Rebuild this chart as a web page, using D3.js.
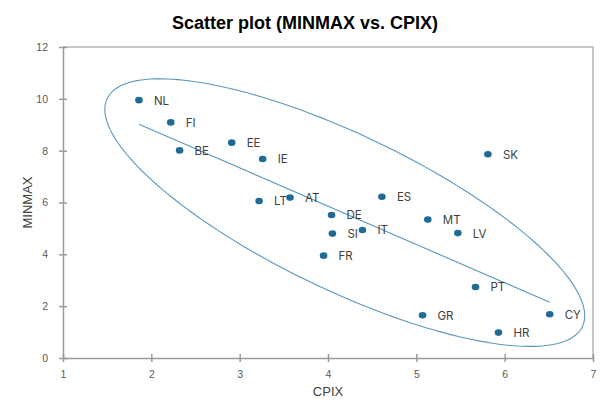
<!DOCTYPE html>
<html>
<head>
<meta charset="utf-8">
<script src="https://cdn.jsdelivr.net/npm/d3@7"></script>
<style>
  body { margin: 0; background: #fff; }
  svg { display: block; }
</style>
</head>
<body>
<svg></svg>
<script>
// country codes and their values
let countries = ["NL", "FI", "BE", "EE", "IE", "LT", "AT", "DE", "SI", "IT", "FR", "ES", "MT", "LV", "PT", "SK", "GR", "HR", "CY"];
let cpix = [1.86, 2.22, 2.32, 2.91, 3.26, 3.22, 3.57, 4.04, 4.05, 4.39, 3.95, 4.61, 5.13, 5.47, 5.67, 5.81, 5.07, 5.93, 6.51];
let minmax = [9.95, 9.09, 8.01, 8.31, 7.68, 6.06, 6.19, 5.52, 4.80, 4.94, 3.95, 6.22, 5.34, 4.82, 2.74, 7.86, 1.65, 0.98, 1.69];

// trend line end values (at the smallest and largest CPIX)
let trendY = [9.02, 2.15];

// hand drawn ellipse around the points, in data units
let ellipseCenter = [4.19, 5.61];
let ellipseMajor = [2.69, -4.40];
let ellipseMinor = [-0.378, -2.70];

let xTicks = [1, 2, 3, 4, 5, 6, 7];
let yTicks = [0, 2, 4, 6, 8, 10, 12];

let width = 603;
let height = 403;
let margin = { top: 47, right: 10, bottom: 45, left: 63 };

let svg = d3.select("svg").attr("width", width).attr("height", height);

let xScale = d3.scaleLinear().domain([1, 7]).range([margin.left, width - margin.right]);
let yScale = d3.scaleLinear().domain([0, 12]).range([height - margin.bottom, margin.top]);

let values = countries.map((c, i) => ({ name: c, x: cpix[i], y: minmax[i] }));

// title
svg.append("text")
   .attr("x", 305)
   .attr("y", 29)
   .attr("text-anchor", "middle")
   .style("font-family", "'Liberation Sans', Arial, sans-serif")
   .style("font-weight", "bold")
   .style("font-size", "18px")
   .style("fill", "#000")
   .text("Scatter plot (MINMAX vs. CPIX)");

// frame on top and right
svg.append("path")
   .attr("d", `M${xScale(1)},${yScale(12)}H${xScale(7)}V${yScale(0)}`)
   .attr("fill", "none")
   .attr("stroke", "#c6c6c6")
   .attr("stroke-width", 2);

// axes
let xAxis = d3.axisBottom(xScale).tickValues(xTicks).tickFormat(d3.format("d")).tickSizeInner(4).tickSizeOuter(0).tickPadding(9);
let yAxis = d3.axisLeft(yScale).tickValues(yTicks).tickFormat(d3.format("d")).tickSizeInner(4).tickSizeOuter(0).tickPadding(11);

let gx = svg.append("g")
   .attr("transform", `translate(0, ${yScale(0)})`)
   .call(xAxis);

let gy = svg.append("g")
   .attr("transform", `translate(${xScale(1)}, 0)`)
   .call(yAxis);

[gx, gy].forEach(g => {
  g.select(".domain").attr("stroke", "#9a9a9a").attr("stroke-width", 1.5);
  g.selectAll(".tick line").attr("stroke", "#9a9a9a").attr("stroke-width", 1.5);
  g.selectAll(".tick text")
   .style("font-family", "'Liberation Sans', Arial, sans-serif")
   .style("font-size", "10.5px")
   .style("fill", "#595959");
});
// ticks cross the axis line
gx.selectAll(".tick line").attr("y1", -4).attr("y2", 4);
gy.selectAll(".tick line").attr("x1", -4).attr("x2", 4);

// axis titles
svg.append("text")
   .attr("x", xScale(4))
   .attr("y", 396)
   .attr("text-anchor", "middle")
   .style("font-family", "'Liberation Sans', Arial, sans-serif")
   .style("font-size", "13px")
   .style("fill", "#404040")
   .text("CPIX");

svg.append("text")
   .attr("transform", `translate(32, ${yScale(6)}) rotate(-90)`)
   .attr("text-anchor", "middle")
   .style("font-family", "'Liberation Sans', Arial, sans-serif")
   .style("font-size", "13px")
   .style("fill", "#404040")
   .text("MINMAX");

// ellipse
let ts = d3.range(0, 2 * Math.PI, Math.PI / 90);
let ellipsePoints = ts.map(t => [
  ellipseCenter[0] + ellipseMajor[0] * Math.cos(t) + ellipseMinor[0] * Math.sin(t),
  ellipseCenter[1] + ellipseMajor[1] * Math.cos(t) + ellipseMinor[1] * Math.sin(t)
]);
svg.append("path")
   .datum(ellipsePoints)
   .attr("d", d3.line().x(d => xScale(d[0])).y(d => yScale(d[1])).curve(d3.curveLinearClosed))
   .attr("fill", "none")
   .attr("stroke", "#5a97bd")
   .attr("stroke-width", 1.1);

// trend line
let xMin = d3.min(cpix);
let xMax = d3.max(cpix);
svg.append("line")
   .attr("x1", xScale(xMin))
   .attr("y1", yScale(trendY[0]))
   .attr("x2", xScale(xMax))
   .attr("y2", yScale(trendY[1]))
   .attr("stroke", "#5a97bd")
   .attr("stroke-width", 1.1);

// points
svg.selectAll("ellipse.dot")
   .data(values)
   .enter()
   .append("ellipse")
   .attr("class", "dot")
   .attr("cx", d => xScale(d.x))
   .attr("cy", d => yScale(d.y))
   .attr("rx", 3.8)
   .attr("ry", 3.3)
   .attr("fill", "#1f6b96");

// labels
svg.selectAll("text.lbl")
   .data(values)
   .enter()
   .append("text")
   .attr("class", "lbl")
   .attr("x", d => xScale(d.x) + 15)
   .attr("y", d => yScale(d.y) + 4.5)
   .style("font-family", "Inter, 'Noto Sans', sans-serif")
   .style("font-size", "11.5px")
   .style("fill", "#404040")
   .text(d => d.name);
</script>
</body>
</html>
